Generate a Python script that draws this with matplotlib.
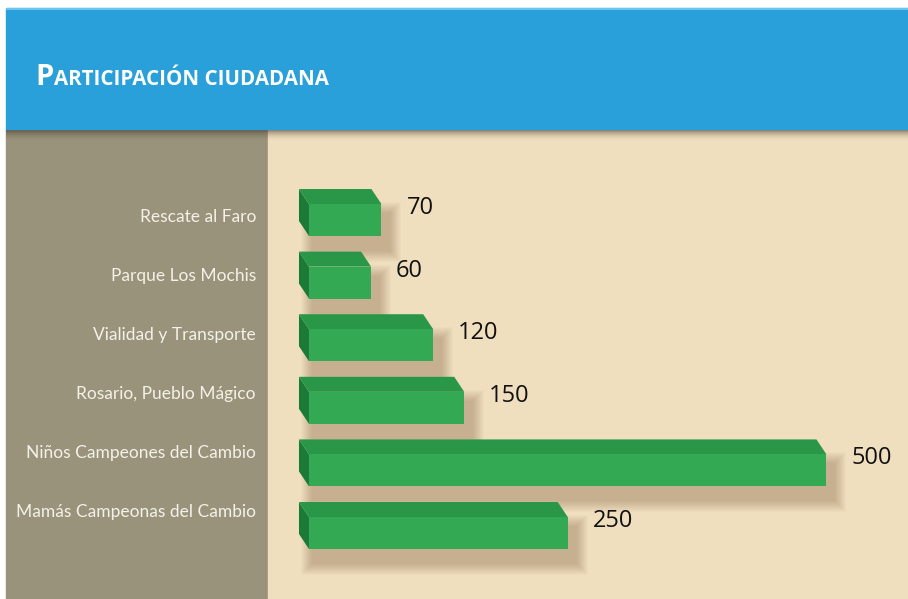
import matplotlib
matplotlib.use("Agg")
import matplotlib.pyplot as plt
from matplotlib.patches import Rectangle, Polygon
import numpy as np

categories = ["Rescate al Faro", "Parque Los Mochis", "Vialidad y Transporte",
              "Rosario, Pueblo Mágico", "Niños Campeones del Cambio",
              "Mamás Campeonas del Cambio"]
values = [70, 60, 120, 150, 500, 250]
title_first = "P"
title_rest = "ARTICIPACIÓN CIUDADANA"

W, H = 908, 599
fig = plt.figure(figsize=(W / 100, H / 100), dpi=100)
fig.patch.set_facecolor("white")

def fx(px):
    return px / W

def fy(py):
    return 1 - py / H

# background panels (figure pixel layout)
bg = fig.add_axes([0, 0, 1, 1])
bg.set_xlim(0, W)
bg.set_ylim(H, 0)
bg.axis("off")
bg.add_patch(Rectangle((6, 129), 262, H - 129, color="#99937b", zorder=0))
bg.add_patch(Rectangle((268, 129), W - 268, H - 129, color="#f0dfbf", zorder=0))
# header shadow
for k in range(12):
    bg.add_patch(Rectangle((6, 129 + k), W - 6, 1, color="#3a2a1a",
                           alpha=0.6 * (1 - k / 12) ** 2, lw=0, zorder=1))
bg.add_patch(Rectangle((6, 8), W - 6, 121, color="#29a0da", zorder=2))
bg.add_patch(Rectangle((6, 8), W - 6, 2, color="#6cc3ec", zorder=3, lw=0))

# title in small caps
t1 = bg.text(35, 85, title_first, color="white", fontsize=21, fontweight="bold",
             family="Open Sans", va="baseline", ha="left", zorder=5)
fig.canvas.draw()
r = fig.canvas.get_renderer()
ext = t1.get_window_extent(r)
bg.text(ext.x1 + 1, 85, title_rest, color="white", fontsize=14.8, fontweight="bold",
        family="Open Sans", va="baseline", ha="left", zorder=5)

# bar axes over right panel
ax = fig.add_axes([fx(268), fy(599), fx(W - 268), (599 - 129) / H])
ax.set_xlim(-39.6, 578.8)
ax.set_ylim(6.054, -1.454)
ax.axis("off")
ax.patch.set_alpha(0)

px_x = 618.4 / 640.0     # data units per pixel horizontally
px_y = 7.508 / 470.0     # data units per pixel vertically
h = 32 * px_y
dx, dy = -10 * px_x, -15 * px_y

for i, v in enumerate(values):
    y0, y1 = i - h / 2, i + h / 2
    # soft shadow (concentric layers), offset down-right
    n = 12
    for k in range(n):
        g = n - k
        ax.add_patch(Rectangle(((4 - g) * px_x, y0 + (10 - g) * px_y),
                               v + (4 + 2 * g) * px_x, h + (4 + 2 * g) * px_y,
                               color="#6b4a2a", alpha=0.028, lw=0, zorder=2))
    # left side face
    ax.add_patch(Polygon([(0, y0), (dx, y0 + dy), (dx, y1 + dy), (0, y1)],
                         closed=True, color="#1b7a38", lw=0, zorder=4))
    # top face
    ax.add_patch(Polygon([(0, y0), (dx, y0 + dy), (v + dx, y0 + dy), (v, y0)],
                         closed=True, color="#2a9647", lw=0, zorder=4))
    # front face
    ax.add_patch(Rectangle((0, y0), v, h, color="#34a953", lw=0, zorder=5))
    # value label
    ax.text(v + 25 * px_x, i - 12 * px_y, str(v), fontsize=17, family="Open Sans",
            color="#111111", va="center", ha="left", zorder=6)

# category labels on left panel
for i, c in enumerate(categories):
    bg.text(256, 217 + 59 * i, c, fontsize=12.5, family="Lato", color="#f4f1e8",
            ha="right", va="center", zorder=5)

fig.savefig("out.png", dpi=100, facecolor=fig.get_facecolor())
